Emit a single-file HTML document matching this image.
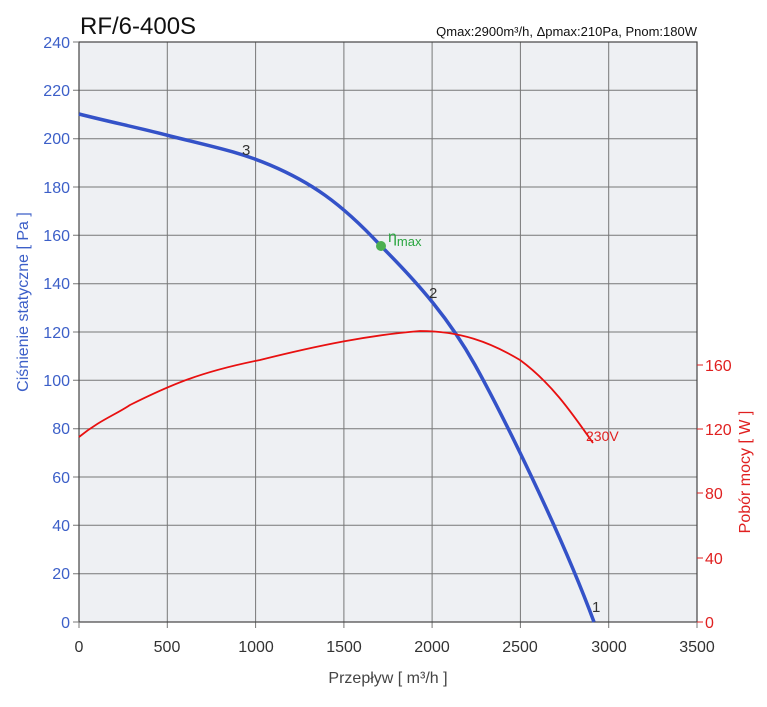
<!DOCTYPE html>
<html><head><meta charset="utf-8"><style>
body{margin:0;background:#fff}
svg{display:block;font-family:"Liberation Sans",sans-serif}
</style></head><body>
<svg width="767" height="707" viewBox="0 0 767 707">
<rect x="79" y="42" width="618" height="580" fill="#eef0f3"/>
<g stroke="#777" stroke-width="1">
<line x1="167.3" y1="42" x2="167.3" y2="628"/><line x1="255.6" y1="42" x2="255.6" y2="628"/><line x1="343.9" y1="42" x2="343.9" y2="628"/><line x1="432.1" y1="42" x2="432.1" y2="628"/><line x1="520.4" y1="42" x2="520.4" y2="628"/><line x1="608.7" y1="42" x2="608.7" y2="628"/>
<line x1="73" y1="90.3" x2="697" y2="90.3"/><line x1="73" y1="138.7" x2="697" y2="138.7"/><line x1="73" y1="187" x2="697" y2="187"/><line x1="73" y1="235.3" x2="697" y2="235.3"/><line x1="73" y1="283.7" x2="697" y2="283.7"/><line x1="73" y1="332" x2="697" y2="332"/><line x1="73" y1="380.3" x2="697" y2="380.3"/><line x1="73" y1="428.7" x2="697" y2="428.7"/><line x1="73" y1="477" x2="697" y2="477"/><line x1="73" y1="525.3" x2="697" y2="525.3"/><line x1="73" y1="573.7" x2="697" y2="573.7"/>
</g>
<rect x="79" y="42" width="618" height="580" fill="none" stroke="#444" stroke-width="1.2"/>
<line x1="73" y1="42" x2="79" y2="42" stroke="#777"/><line x1="73" y1="622" x2="79" y2="622" stroke="#777"/>
<line x1="79" y1="622" x2="79" y2="628" stroke="#777"/><line x1="697" y1="622" x2="697" y2="628" stroke="#777"/>
<g stroke="#e02020"><line x1="697" y1="622" x2="703" y2="622"/><line x1="697" y1="558" x2="703" y2="558"/><line x1="697" y1="493" x2="703" y2="493"/><line x1="697" y1="429" x2="703" y2="429"/><line x1="697" y1="365" x2="703" y2="365"/></g>
<g fill="#3c5fc8" font-size="16" text-anchor="end">
<text x="70" y="48">240</text><text x="70" y="96">220</text><text x="70" y="144">200</text><text x="70" y="193">180</text><text x="70" y="241">160</text><text x="70" y="289">140</text><text x="70" y="338">120</text><text x="70" y="386">100</text><text x="70" y="434">80</text><text x="70" y="483">60</text><text x="70" y="531">40</text><text x="70" y="579">20</text><text x="70" y="628">0</text>
</g>
<g fill="#e02020" font-size="16">
<text x="705" y="628">0</text><text x="705" y="564">40</text><text x="705" y="499">80</text><text x="705" y="435">120</text><text x="705" y="371">160</text>
</g>
<g fill="#333" font-size="16" text-anchor="middle">
<text x="79" y="652">0</text><text x="167" y="652">500</text><text x="256" y="652">1000</text><text x="344" y="652">1500</text><text x="432" y="652">2000</text><text x="520" y="652">2500</text><text x="609" y="652">3000</text><text x="697" y="652">3500</text>
</g>
<text x="388" y="683" fill="#444" font-size="16" text-anchor="middle">Przepływ [ m³/h ]</text>
<text transform="translate(28,302) rotate(-90)" fill="#3c5fc8" font-size="16" text-anchor="middle">Ciśnienie statyczne [ Pa ]</text>
<text transform="translate(750,472) rotate(-90)" fill="#e02020" font-size="16" text-anchor="middle">Pobór mocy [ W ]</text>
<text x="80" y="34" font-size="24" fill="#111">RF/6-400S</text>
<text x="697" y="36" font-size="13" fill="#111" text-anchor="end">Qmax:2900m³/h, Δpmax:210Pa, Pnom:180W</text>
<path d="M79,114 C110,122 140,128 170,136 C210,146 240,152 270,165 C310,182 340,202 380,245 C420,285 450,320 475,365 S560,530 594,622" fill="none" stroke="#3452c8" stroke-width="3.5"/>
<path d="M79,437 C100,420 115,415 130,405 C170,385 200,372 260,360 C320,345 370,335 420,331 C460,331 490,342 520,360 C550,382 570,410 593,443" fill="none" stroke="#e81010" stroke-width="1.8"/>
<circle cx="381" cy="246" r="5" fill="#4caf50"/>
<text x="388" y="242" fill="#2aa640" font-size="16">η<tspan font-size="13" dy="4">max</tspan></text>
<text x="242" y="155" fill="#333" font-size="15">3</text>
<text x="429" y="298" fill="#333" font-size="15">2</text>
<text x="592" y="612" fill="#333" font-size="15">1</text>
<text x="586" y="441" fill="#e02020" font-size="14">230V</text>
</svg>
</body></html>
